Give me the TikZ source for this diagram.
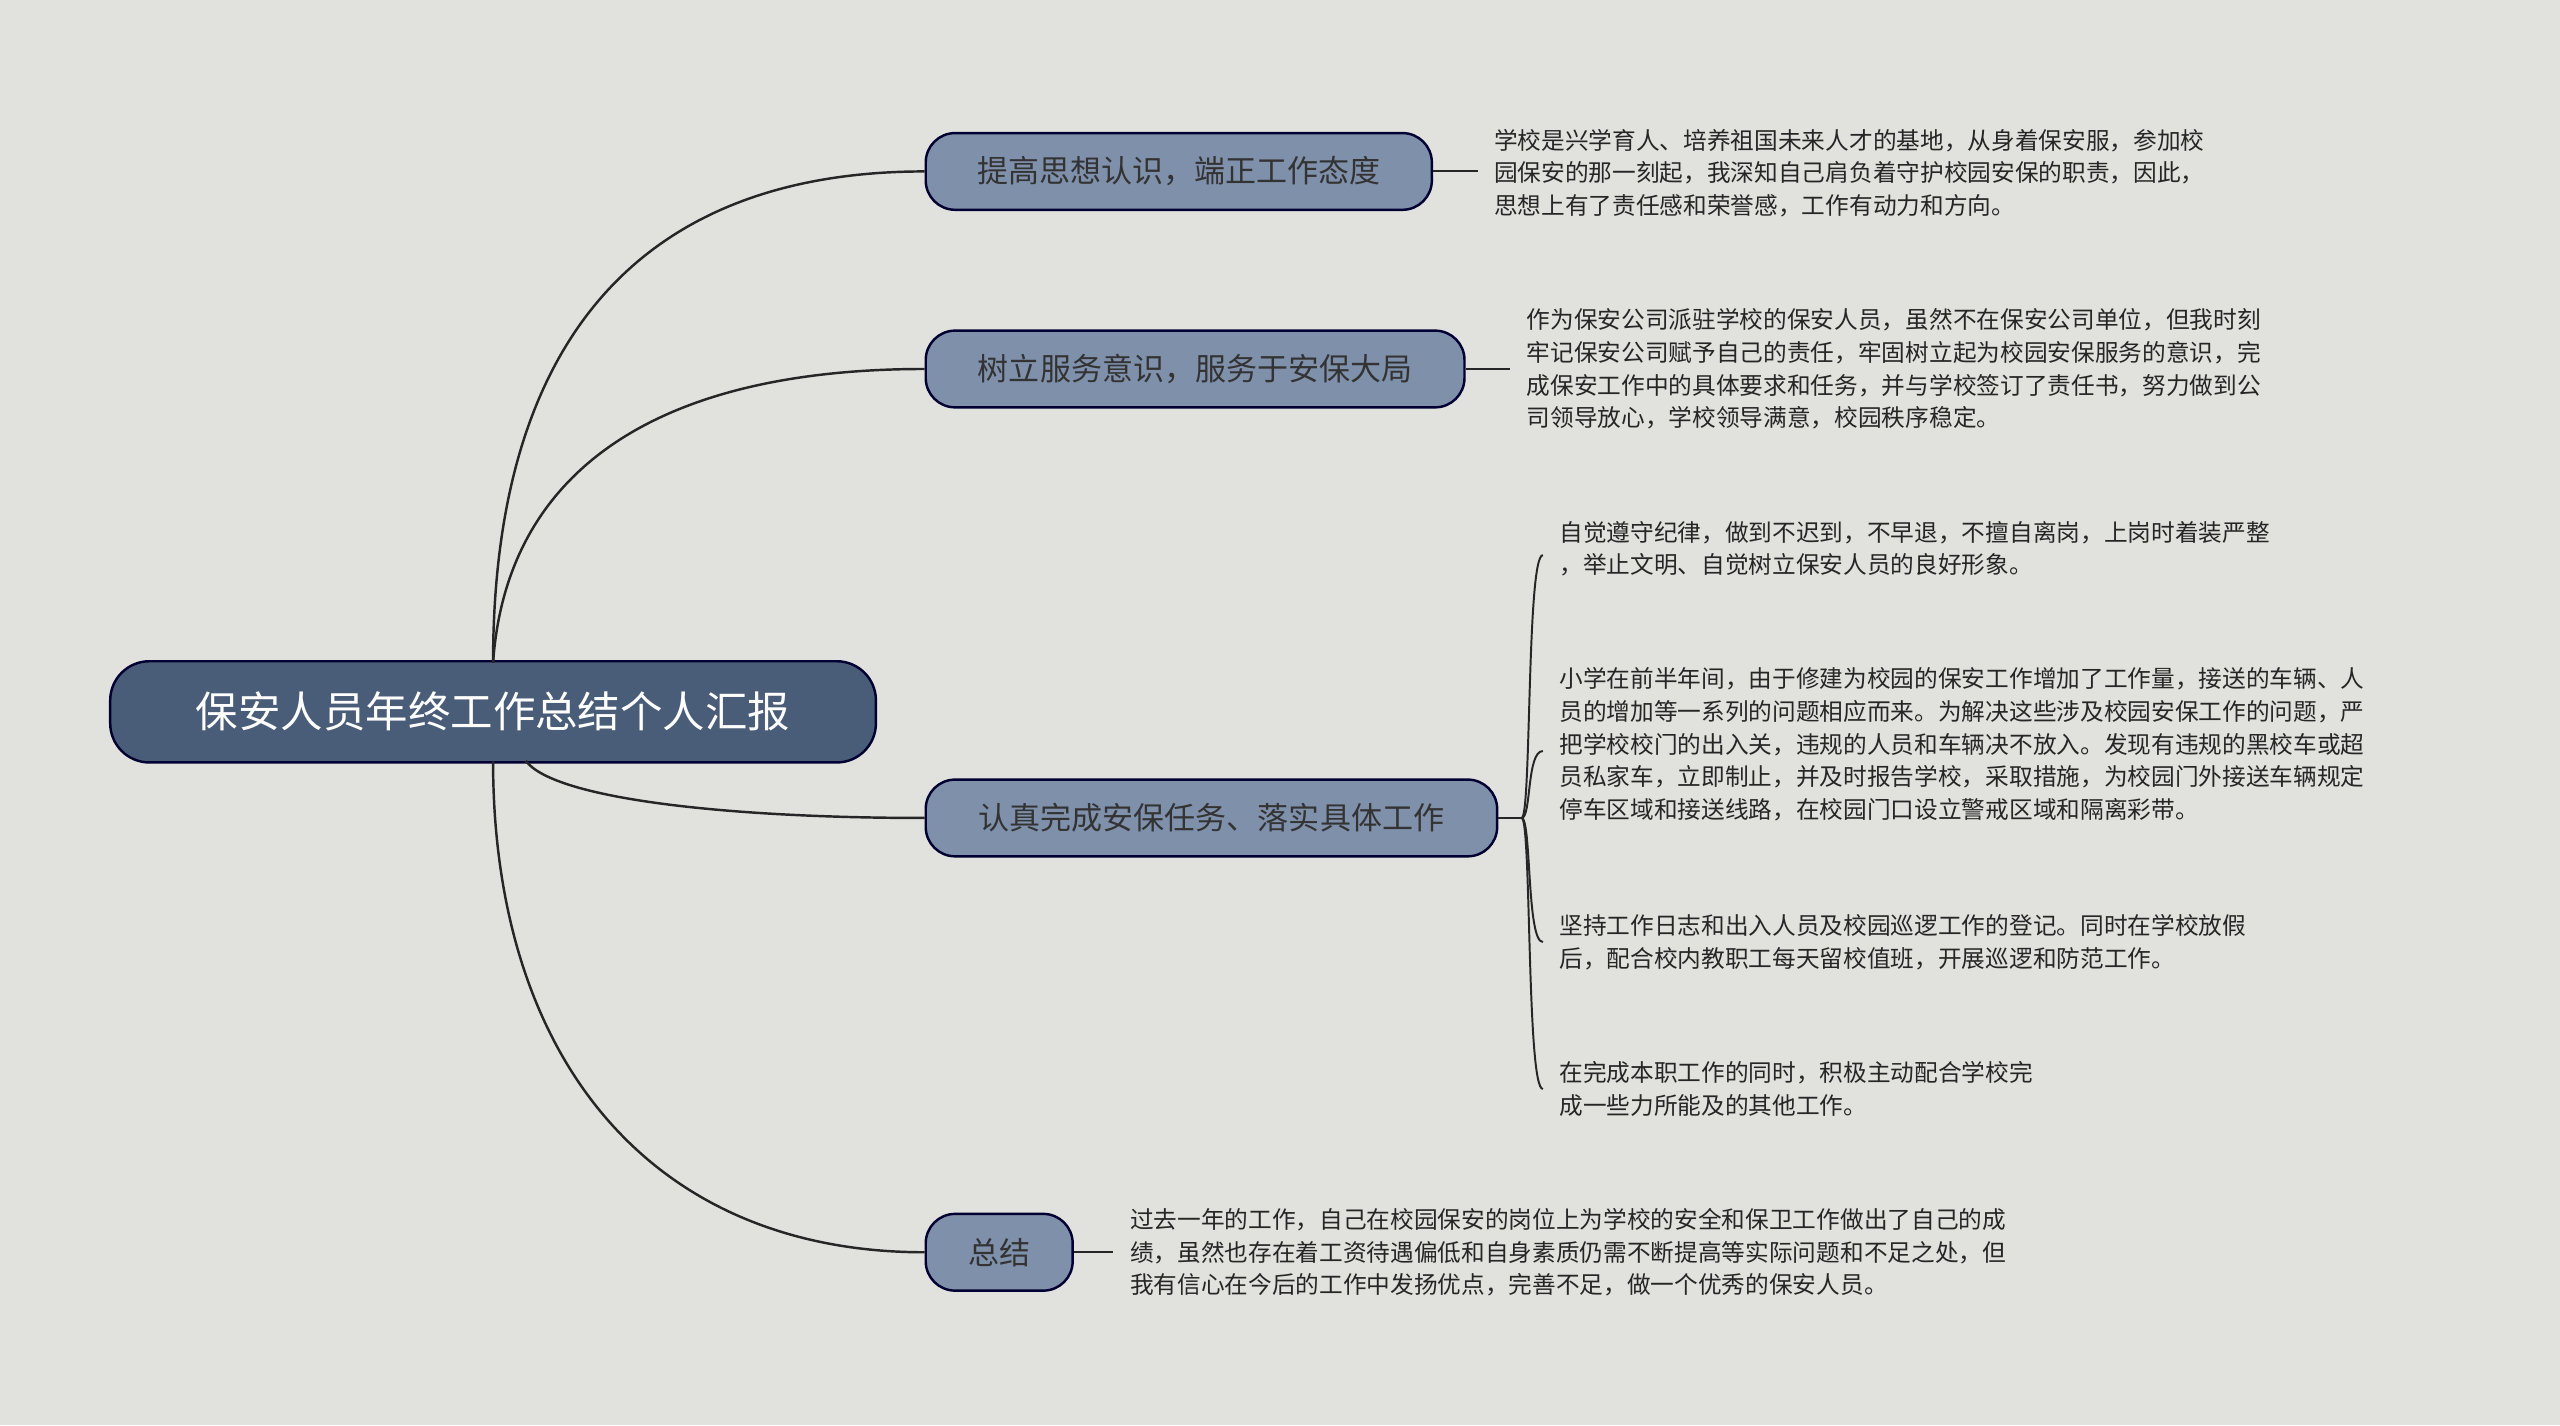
\documentclass[tikz,border=0pt]{standalone}
\usepackage{fontspec}
\setmainfont{Noto Sans CJK SC}
\begin{document}
\begin{tikzpicture}[x=1pt,y=-1pt,
  rootbox/.style={draw=black!80!blue,line width=1.5pt,fill=rootc,rounded corners=24pt,minimum width=469pt,minimum height=62pt,text=white,font=\fontsize{26}{30}\selectfont},
  brbox/.style={draw=black!80!blue,line width=1.5pt,fill=brc,rounded corners=18pt,minimum height=47pt,inner xsep=0pt,text=black!80,font=\fontsize{19}{23}\selectfont},
  leaf/.style={anchor=west,align=left,inner sep=0pt,text=black!85,font=\fontsize{14.5}{20}\selectfont},
  con/.style={draw=black!85,line width=1.5pt}]
\definecolor{bgc}{HTML}{E1E2DD}
\definecolor{rootc}{HTML}{4A5D78}
\definecolor{brc}{HTML}{7F90AB}
\fill[bgc] (0,0) rectangle (1568,873);
\useasboundingbox (0,0) rectangle (1568,873);
\node[rootbox] (r) at (302,436) {保安人员年终工作总结个人汇报};
\node[brbox,minimum width=310pt] (b1) at (722,105) {提高思想认识，端正工作态度};
\node[brbox,minimum width=330pt] (b2) at (732,226) {树立服务意识，服务于安保大局};
\node[brbox,minimum width=350pt] (b3) at (742,501) {认真完成安保任务、落实具体工作};
\node[brbox,minimum width=90pt] (b4) at (612,767) {总结};
\coordinate (rt) at (302,406);
\coordinate (rb) at (302,466);
\coordinate (rb3) at (322,466);
\draw[con] (rt) .. controls (302,200) and (400,105) .. (b1.west);
\draw[con] (rt) .. controls (310,290) and (400,226) .. (b2.west);
\draw[con] (rb3) .. controls (340,490) and (450,501) .. (b3.west);
\draw[con] (rb) .. controls (302,650) and (400,767) .. (b4.west);
\node[leaf] (l1) at (915,106) {学校是兴学育人、培养祖国未来人才的基地，从身着保安服，参加校\\园保安的那一刻起，我深知自己肩负着守护校园安保的职责，因此，\\思想上有了责任感和荣誉感，工作有动力和方向。};
\node[leaf] (l2) at (935,226) {作为保安公司派驻学校的保安人员，虽然不在保安公司单位，但我时刻\\牢记保安公司赋予自己的责任，牢固树立起为校园安保服务的意识，完\\成保安工作中的具体要求和任务，并与学校签订了责任书，努力做到公\\司领导放心，学校领导满意，校园秩序稳定。};
\node[leaf] (s1) at (955,336) {自觉遵守纪律，做到不迟到，不早退，不擅自离岗，上岗时着装严整\\，举止文明、自觉树立保安人员的良好形象。};
\node[leaf] (s2) at (955,456) {小学在前半年间，由于修建为校园的保安工作增加了工作量，接送的车辆、人\\员的增加等一系列的问题相应而来。为解决这些涉及校园安保工作的问题，严\\把学校校门的出入关，违规的人员和车辆决不放入。发现有违规的黑校车或超\\员私家车，立即制止，并及时报告学校，采取措施，为校园门外接送车辆规定\\停车区域和接送线路，在校园门口设立警戒区域和隔离彩带。};
\node[leaf] (s3) at (955,577) {坚持工作日志和出入人员及校园巡逻工作的登记。同时在学校放假\\后，配合校内教职工每天留校值班，开展巡逻和防范工作。};
\node[leaf] (s4) at (955,667) {在完成本职工作的同时，积极主动配合学校完\\成一些力所能及的其他工作。};
\node[leaf] (l4) at (692,767) {过去一年的工作，自己在校园保安的岗位上为学校的安全和保卫工作做出了自己的成\\绩，虽然也存在着工资待遇偏低和自身素质仍需不断提高等实际问题和不足之处，但\\我有信心在今后的工作中发扬优点，完善不足，做一个优秀的保安人员。};
\coordinate (e1) at (905,105);
\coordinate (e2) at (925,226);
\coordinate (e4) at (682,767);
\coordinate (j) at (932,501);
\draw[con,line width=1.2pt] (b1.east) -- (e1);
\draw[con,line width=1.2pt] (b2.east) -- (e2);
\draw[con,line width=1.2pt] (b4.east) -- (e4);
\draw[con,line width=1.2pt] (b3.east) -- (j);
\foreach \n/\y in {s1/340,s2/460,s3/577,s4/667}{
  \coordinate (t\n) at (945,\y);
  \draw[con,line width=1.2pt] (j) .. controls (938,501) and (935,\y) .. (t\n);
}
\end{tikzpicture}
\end{document}
